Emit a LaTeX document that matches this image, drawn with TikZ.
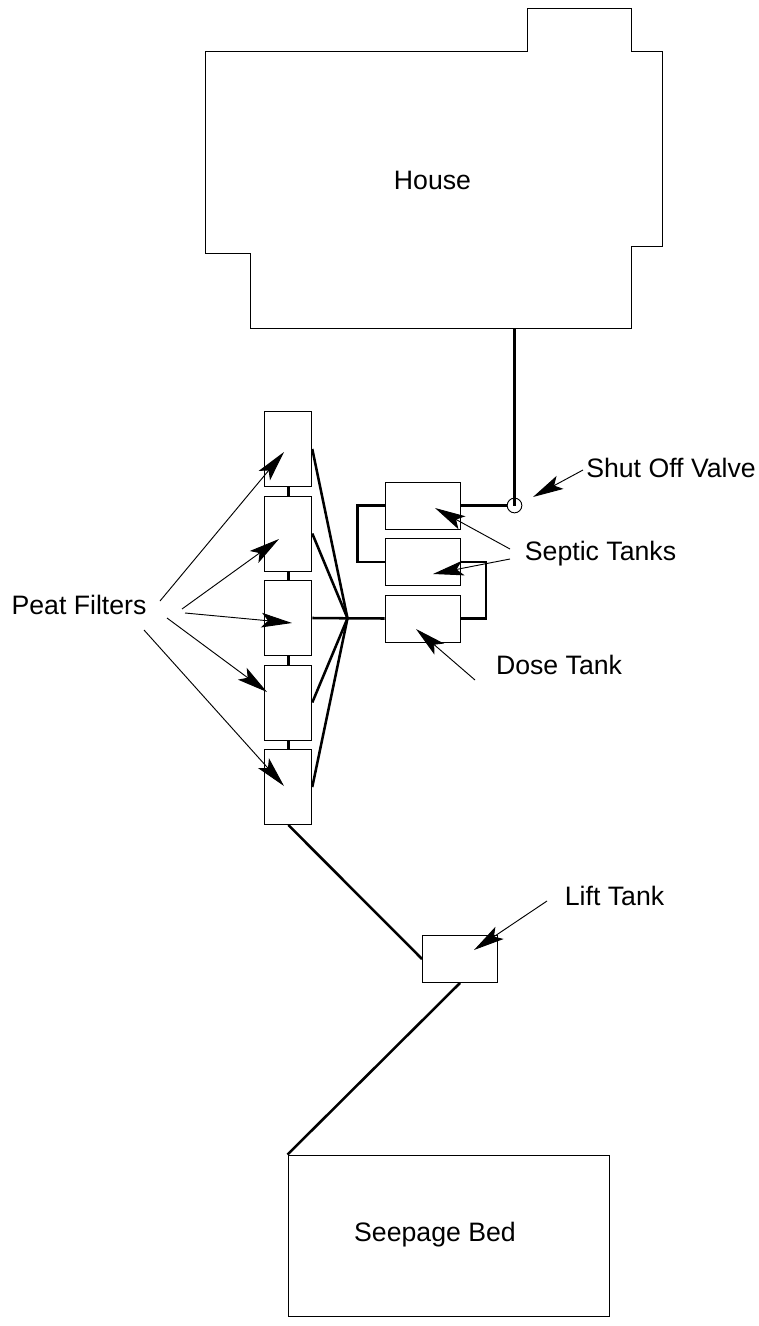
\documentclass[tikz,border=0pt]{standalone}
\usepackage{fontspec}
\setmainfont{Liberation Sans}
\usetikzlibrary{arrows.meta}
\tikzset{
  box/.style={draw,line width=.7pt,inner sep=0pt},
  tank/.style={box,minimum width=56.25pt,minimum height=35.25pt},
  filter/.style={box,minimum width=35.25pt,minimum height=56.25pt},
  pipe/.style={line width=1.9pt},
  pointer/.style={line width=.7pt,-{Stealth[length=23pt,width=11pt,inset=5pt]}},
  label/.style={font=\fontsize{20}{24}\selectfont,inner sep=0pt}
}
\begin{document}
\begin{tikzpicture}[x=.75pt,y=-.75pt]
\useasboundingbox (0,0) rectangle (758,1326);
\draw[line width=.7pt] (205.7,51)--(527.7,51)--(527.7,8)--(631.7,8)--(631.7,51)--(662.7,51)--(662.7,246.7)--(631.7,246.7)--(631.7,328.7)--(250,328.7)--(250,253)--(205.7,253)--cycle;
\coordinate (houseout) at (514.5,328.7);
\node[label] (house) at (432.5,180){House};
\node[filter] (F1) at (288.3,449){};
\node[filter] (F2) at (288.3,533.5){};
\node[filter] (F3) at (288.3,618){};
\node[filter] (F4) at (288.3,702.5){};
\node[filter] (F5) at (288.3,787){};
\node[tank] (T1) at (422.5,505.5){};
\node[tank] (T2) at (422.5,562){};
\node[tank] (T3) at (422.5,618.5){};
\node[tank] (L) at (460,959){};
\node[box,minimum width=240.75pt,minimum height=120.75pt] (B) at (448.5,1235.5){};
\node[draw,circle,minimum size=11pt,inner sep=0pt,line width=.7pt] (V) at (514.5,505.5){};
\node[label] (bed) at (435,1235){Seepage Bed};
\coordinate (J) at (347.5,618.3);
% pipes
\draw[pipe] (houseout)--(V.center);
\draw[pipe] (V.west)--(T1.east);
\draw[pipe] (T1.west)--++(-27,0)|-(T2.west);
\draw[pipe] (T2.east)--++(25.5,0)|-(T3.east);
\draw[pipe] (T3.west)--(J);
\draw[pipe] (F3.east)--(J);
\draw[pipe] (F1.east)--(J);
\draw[pipe] (F2.east)--(J);
\draw[pipe] (F4.east)--(J);
\draw[pipe] (F5.east)--(J);
\draw[pipe] (F1)--(F2);
\draw[pipe] (F2)--(F3);
\draw[pipe] (F3)--(F4);
\draw[pipe] (F4)--(F5);
\draw[pipe] (F5.south)--(L.west);
\draw[pipe] (L.south)--(B.north west);
% redraw boxes on top of the link lines
\foreach \n in {F1,F2,F3,F4,F5}
  \node[filter,fill=white] at (\n){};
% labels
\node[label] (peat) at (79,605){Peat Filters};
\node[label] (septic) at (600.5,554){Septic Tanks};
\node[label] (dose) at (559,665){Dose Tank};
\node[label] (valve) at (671,468){Shut Off Valve};
\node[label] (lift) at (614.5,896){Lift Tank};
% pointers
\coordinate (p1) at (160,601); \coordinate (q1) at (284,452);
\coordinate (p2) at (182,609); \coordinate (q2) at (279,539);
\coordinate (p3) at (185,613); \coordinate (q3) at (292,623);
\coordinate (p4) at (167,618); \coordinate (q4) at (267,692);
\coordinate (p5) at (144,630); \coordinate (q5) at (284,786);
\coordinate (s1) at (510,549); \coordinate (t1) at (435,508);
\coordinate (s2) at (510,559); \coordinate (t2) at (433,574);
\coordinate (d1) at (475,680); \coordinate (d2) at (416,629);
\coordinate (v1) at (583,470); \coordinate (v2) at (533,497);
\coordinate (l1) at (547,901); \coordinate (l2) at (474,950);
\foreach \a/\b in {p1/q1,p2/q2,p3/q3,p4/q4,p5/q5,s1/t1,s2/t2,d1/d2,v1/v2,l1/l2}
  \draw[pointer] (\a)--(\b);
\end{tikzpicture}
\end{document}
